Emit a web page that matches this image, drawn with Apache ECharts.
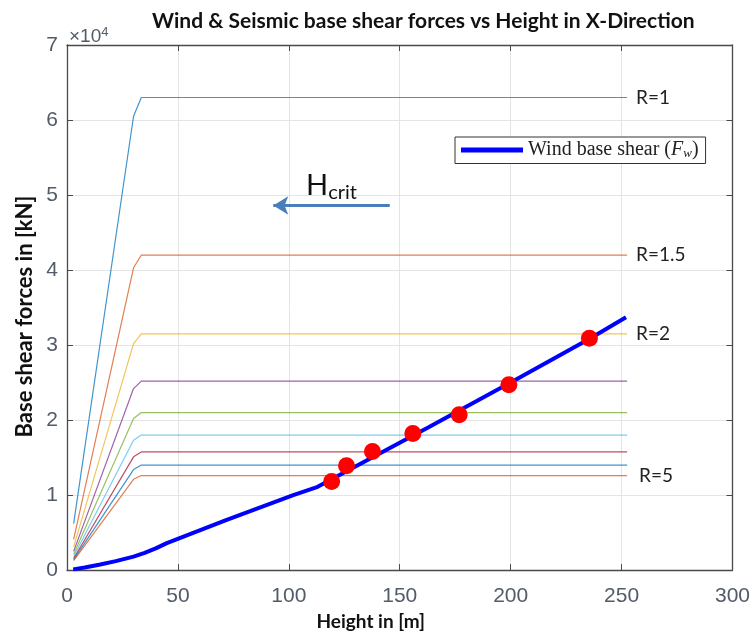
<!DOCTYPE html>
<html>
<head>
<meta charset="utf-8">
<script src="https://cdn.jsdelivr.net/npm/echarts@6/dist/echarts.min.js"></script>
<style>html,body{margin:0;padding:0;background:#fff}#c{width:753px;height:636px}</style>
</head>
<body>
<div id="c"></div>
<script>
// ---- data ----
const seismicNames = ['R=1','R=1.5','R=2','R=2.5','R=3','R=3.5','R=4','R=4.5','R=5'];
const seismicLabels = ['R=1','R=1.5','R=2','','','','','','R=5'];
const seisR1   = [[3,6200],[30,60500],[33.5,63000],[252.5,63000]];
const seisR1_5 = [[3,4100],[30,40300],[33.5,42000],[252.5,42000]];
const seisR2   = [[3,3100],[30,30200],[33.5,31500],[252.5,31500]];
const seisR2_5 = [[3,2500],[30,24200],[33.5,25200],[252.5,25200]];
const seisR3   = [[3,2100],[30,20200],[33.5,21000],[252.5,21000]];
const seisR3_5 = [[3,1800],[30,17300],[33.5,18000],[252.5,18000]];
const seisR4   = [[3,1550],[30,15100],[33.5,15750],[252.5,15750]];
const seisR4_5 = [[3,1400],[30,13400],[33.5,14000],[252.5,14000]];
const seisR5   = [[3,1250],[30,12100],[33.5,12600],[252.5,12600]];
const seismicData = [seisR1,seisR1_5,seisR2,seisR2_5,seisR3,seisR3_5,seisR4,seisR4_5,seisR5];
const windLine = [[2.8,100],[8,350],[15,750],[22,1200],[30,1800],[35,2300],[40,2900],[45,3600],[72,6700],[102,10000],[113,11100],[163,19050],[200,25000],[236,30900],[252,33700]];
const windDots = [[119.3,11800],[126,13900],[137.7,15800],[155.9,18200],[176.8,20700],[199.2,24700],[235.5,30900]];
const hcritArrow = [[93,48600],[145.5,48600]];
const xTicks = {min:0, max:300, step:50};
const yTicks = {min:0, max:70000, step:10000, scale:10000};

// ---- styling ----
const seismicColors = ['#0072BD','#D95319','#EDB120','#7E2F8E','#77AC30','#4DBEEE','#A2142F','#0072BD','#D95319'];
const axisColor = '#4a4a4a';
const tickLabelColor = '#525c68';
const gridColor = '#e4e4e4';

const series = seismicData.map((d,i)=>({
  name: seismicNames[i], type:'line', data:d, symbol:'none', silent:true,
  lineStyle:{color:seismicColors[i], width:1.2, opacity:0.75},
  endLabel: seismicLabels[i] ? {show:true, formatter:seismicLabels[i], distance:(i===8?12:9), color:'#222', fontSize:19, fontFamily:'Lato'} : {show:false},
  z:2
}));
series.push({
  name:'Wind base shear', type:'line', data:windLine, symbol:'none',
  lineStyle:{color:'#0000FF', width:4}, itemStyle:{color:'#0000FF'}, z:3,
  markLine:{
    silent:true, animation:false,
    symbolSize:[14,15],
    lineStyle:{color:'#4a7ebb', width:3, type:'solid'},
    label:{show:true, position:'middle', distance:3, formatter:'{h|H}{s|crit}',
      rich:{h:{fontSize:29, fontFamily:'Lato', color:'#111'}, s:{fontSize:20, fontFamily:'Lato', color:'#111', padding:[14,0,0,0]}}},
    data:[[{coord:hcritArrow[0], symbol:'arrow'},{coord:hcritArrow[1], symbol:'none'}]]
  }
});
series.push({
  name:'dots', type:'scatter', data:windDots, symbol:'circle', symbolSize:17,
  itemStyle:{color:'#FF0000', opacity:1}, z:4, silent:true
});

const chart = echarts.init(document.getElementById('c'), null, {renderer:'canvas'});
chart.setOption({
  animation:false,
  backgroundColor:'#fff',
  title:{text:'Wind & Seismic base shear forces vs Height in X-Direction', left:147, top:6,
    textStyle:{fontFamily:'Lato', fontWeight:'bold', fontSize:21, color:'#111'}},
  legend:{
    data:[{name:'Wind base shear', icon:'rect'}],
    left:455, top:137, itemWidth:62, itemHeight:5, itemGap:4,
    padding:[3,7,3,6], borderColor:'#333', borderWidth:1, backgroundColor:'#fff',
    formatter:()=> 'Wind base shear ({i|F}{w|w})',
    textStyle:{fontFamily:'Liberation Serif', fontSize:20, color:'#222',
      rich:{i:{fontFamily:'Liberation Serif', fontStyle:'italic', fontSize:20, color:'#222'},
            w:{fontFamily:'Liberation Serif', fontStyle:'italic', fontSize:13, color:'#222', padding:[8,0,0,0]}}}
  },
  grid:{left:67, right:16, top:45, bottom:62, containLabel:false},
  xAxis:[{
    type:'value', min:xTicks.min, max:xTicks.max, interval:xTicks.step, position:'bottom',
    name:'Height in [m]', nameLocation:'middle', nameGap:37,
    nameTextStyle:{fontFamily:'Lato', fontWeight:'bold', fontSize:19, color:'#111', padding:[0,58,0,0]},
    axisLine:{show:true, onZero:false, lineStyle:{color:axisColor, width:1.3}},
    axisTick:{show:true, inside:true, length:6, lineStyle:{color:axisColor}},
    axisLabel:{margin:16, fontFamily:'Liberation Sans', fontSize:21, color:tickLabelColor},
    splitLine:{show:true, lineStyle:{color:gridColor, width:1}}
  },{
    type:'value', min:xTicks.min, max:xTicks.max, interval:xTicks.step, position:'top',
    axisLine:{show:true, onZero:false, lineStyle:{color:axisColor, width:1.3}},
    axisTick:{show:true, inside:true, length:6, lineStyle:{color:axisColor}},
    axisLabel:{show:false}, splitLine:{show:false}
  }],
  yAxis:[{
    type:'value', min:yTicks.min, max:yTicks.max, interval:yTicks.step, position:'left',
    name:'Base shear forces in [kN]', nameLocation:'middle', nameGap:29,
    nameTextStyle:{fontFamily:'Lato', fontWeight:'bold', fontSize:22, color:'#111', padding:[0,18,0,0]},
    axisLine:{show:true, onZero:false, lineStyle:{color:axisColor, width:1.3}},
    axisTick:{show:true, inside:true, length:6, lineStyle:{color:axisColor}},
    axisLabel:{margin:9, fontFamily:'Liberation Sans', fontSize:21, color:tickLabelColor,
      formatter:v=> String(v/yTicks.scale)},
    splitLine:{show:true, lineStyle:{color:gridColor, width:1}}
  },{
    type:'value', min:yTicks.min, max:yTicks.max, interval:yTicks.step, position:'right',
    axisLine:{show:true, onZero:false, lineStyle:{color:axisColor, width:1.3}},
    axisTick:{show:true, inside:true, length:6, lineStyle:{color:axisColor}},
    axisLabel:{show:false}, splitLine:{show:false}
  }],
  graphic:[{
    type:'text', left:69, top:26,
    style:{text:'×10{s|4}', fontFamily:'Liberation Sans', fontSize:19, fill:tickLabelColor,
      rich:{s:{fontSize:13, fontFamily:'Liberation Sans', fill:tickLabelColor, color:tickLabelColor, padding:[0,0,9,0]}}}
  }],
  series:series
});
</script>
</body>
</html>
